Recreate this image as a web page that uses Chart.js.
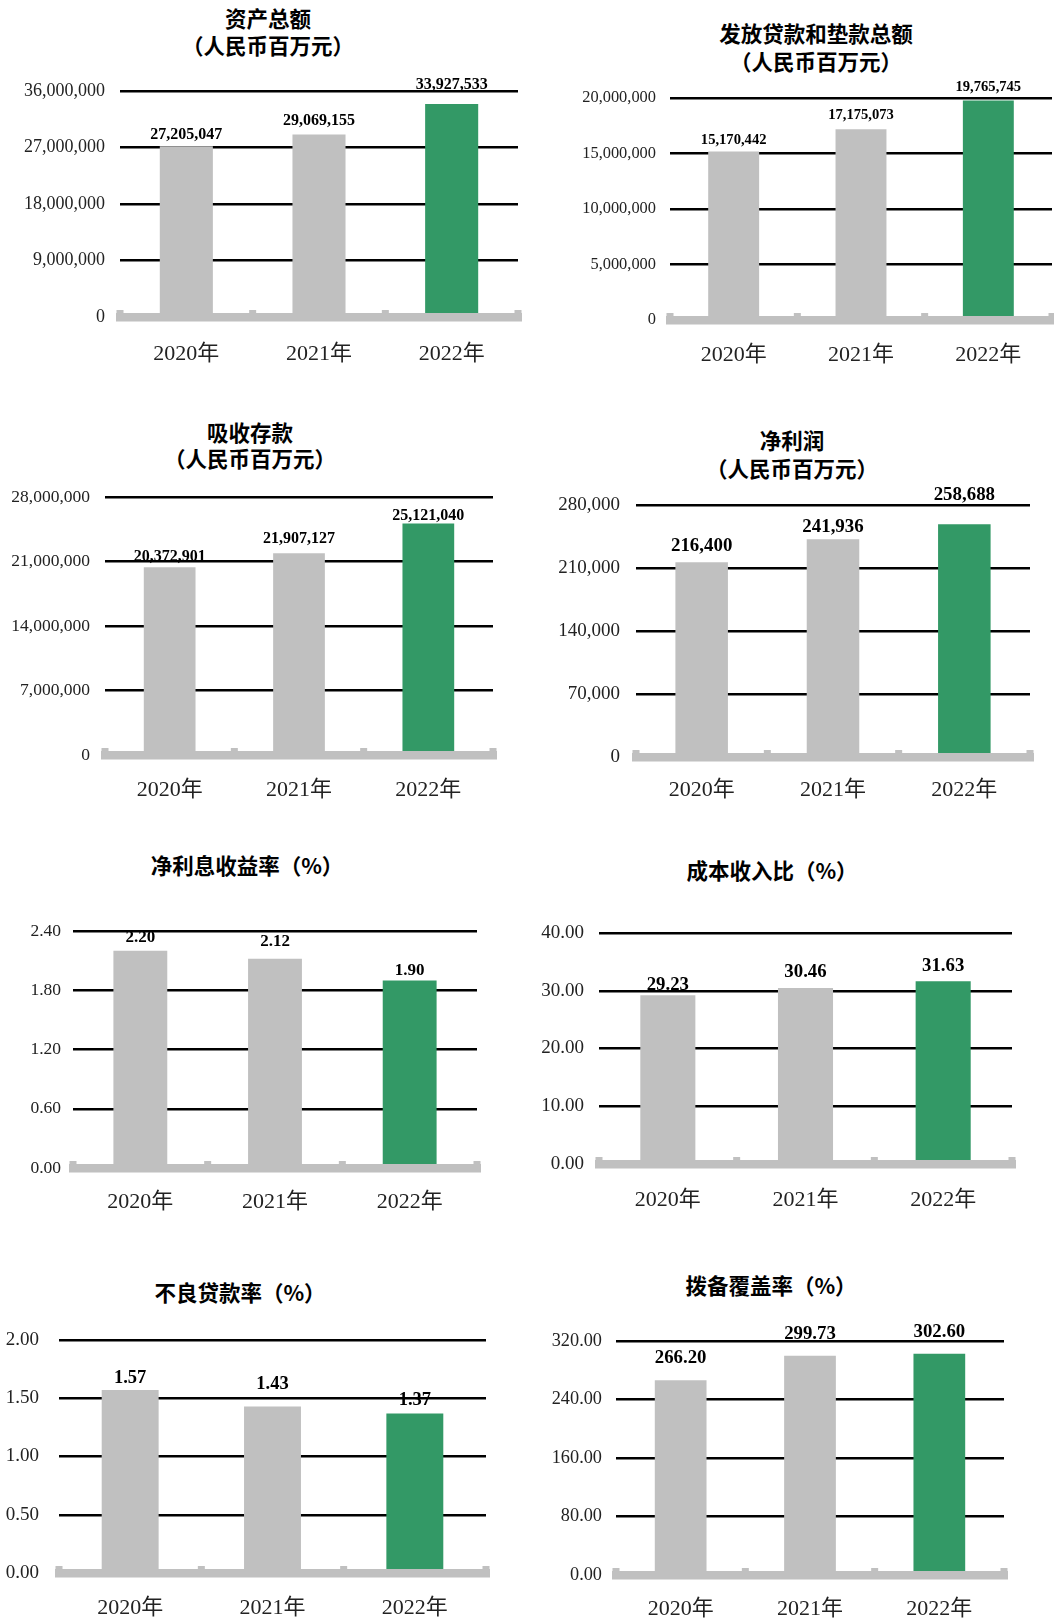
<!DOCTYPE html>
<html>
<head>
<meta charset="utf-8">
<title>主要财务指标</title>
<script src="https://cdn.jsdelivr.net/npm/chart.js"></script>
<style>
    body {
        margin: 0;
        background: #fff;
    }
    #page {
        position: relative;
        width: 1054px;
        height: 1619px;
        overflow: hidden;
    }
    #page canvas {
        position: absolute;
    }
    .title {
        position: absolute;
        transform: translateX(-50%);
        white-space: nowrap;
        font: bold 21.5px 'Noto Sans CJK SC', sans-serif;
        line-height: 28px;
        color: #000;
    }
</style>
</head>
<body>
<div id="page"></div>

<script>
    // data
    const years = ['2020年', '2021年', '2022年'];

    const totalAssets = [27205047, 29069155, 33927533];
    const loans = [15170442, 17175073, 19765745];
    const deposits = [20372901, 21907127, 25121040];
    const netProfit = [216400, 241936, 258688];
    const netInterestMargin = [2.20, 2.12, 1.90];
    const costIncomeRatio = [29.23, 30.46, 31.63];
    const nplRatio = [1.57, 1.43, 1.37];
    const provisionCoverage = [266.20, 299.73, 302.60];

    const assetTicks = [0, 9000000, 18000000, 27000000, 36000000];
    const loanTicks = [0, 5000000, 10000000, 15000000, 20000000];
    const depositTicks = [0, 7000000, 14000000, 21000000, 28000000];
    const profitTicks = [0, 70000, 140000, 210000, 280000];
    const nimTicks = [0, 0.6, 1.2, 1.8, 2.4];
    const costTicks = [0, 10, 20, 30, 40];
    const nplTicks = [0, 0.5, 1.0, 1.5, 2.0];
    const coverageTicks = [0, 80, 160, 240, 320];

    const barColors = ['#c0c0c0', '#c0c0c0', '#339966'];
    const serif = "'Liberation Serif', 'Noto Sans CJK SC', serif";

    // layout of the 8 panels (page pixels); gaps = label distance above bar top
    const panels = [
        { title: ['资产总额', '（人民币百万元）'], tx: 268, ty: [18, 45], values: totalAssets, ticks: assetTicks, dec: 0,
          left: 0, x0: 120, x1: 518, yTop: 91, yZero: 317, labelRight: 105, xLabelY: 352, tickSize: 18, valSize: 16, gaps: [11, 14, 19] },
        { title: ['发放贷款和垫款总额', '（人民币百万元）'], tx: 816, ty: [33, 61], values: loans, ticks: loanTicks, dec: 0,
          left: 520, x0: 670, x1: 1052, yTop: 98, yZero: 320, labelRight: 656, xLabelY: 353, tickSize: 16.4, valSize: 14.6, gaps: [11, 14, 13] },
        { title: ['吸收存款', '（人民币百万元）'], tx: 250, ty: [432, 458], values: deposits, ticks: depositTicks, dec: 0,
          left: 0, x0: 105, x1: 493, yTop: 497, yZero: 755, labelRight: 90, xLabelY: 788, tickSize: 17.5, valSize: 16, gaps: [10, 14, 8] },
        { title: ['净利润', '（人民币百万元）'], tx: 792, ty: [440, 468], values: netProfit, ticks: profitTicks, dec: 0,
          left: 520, x0: 636, x1: 1030, yTop: 505, yZero: 757, labelRight: 620, xLabelY: 788, tickSize: 19, valSize: 18.9, gaps: [16, 12, 29] },
        { title: ['净利息收益率（%）'], tx: 247, ty: [865], values: netInterestMargin, ticks: nimTicks, dec: 2,
          left: 0, x0: 73, x1: 477, yTop: 931, yZero: 1168, labelRight: 61, xLabelY: 1200, tickSize: 17.5, valSize: 17, gaps: [13, 17, 10] },
        { title: ['成本收入比（%）'], tx: 772, ty: [870], values: costIncomeRatio, ticks: costTicks, dec: 2,
          left: 520, x0: 599, x1: 1012, yTop: 933, yZero: 1164, labelRight: 584, xLabelY: 1198, tickSize: 19, valSize: 18.8, gaps: [10, 16, 15] },
        { title: ['不良贷款率（%）'], tx: 240, ty: [1292], values: nplRatio, ticks: nplTicks, dec: 2,
          left: 0, x0: 59, x1: 486, yTop: 1340, yZero: 1573, labelRight: 39, xLabelY: 1606, tickSize: 19, valSize: 18.5, gaps: [12, 22, 13] },
        { title: ['拨备覆盖率（%）'], tx: 771, ty: [1285], values: provisionCoverage, ticks: coverageTicks, dec: 2,
          left: 520, x0: 616, x1: 1004, yTop: 1341, yZero: 1575, labelRight: 602, xLabelY: 1607, tickSize: 18.3, valSize: 18.8, gaps: [22, 22, 22] }
    ];

    const PAD_TOP = 40, PAD_RIGHT = 10, X_AXIS_H = 46, X_FONT = 22, X_SHIFT = 6;

    function fmt(v, dec) {
        return v.toLocaleString('en-US', { minimumFractionDigits: dec, maximumFractionDigits: dec });
    }

    // gray axis band with little stubs, plus value labels on the bars
    const barDeco = {
        id: 'barDeco',
        afterDatasetsDraw(chart, args, opts) {
            const { ctx, scales: { x, y } } = chart;
            const y0 = y.getPixelForValue(0);
            ctx.save();
            ctx.fillStyle = '#c0c0c0';
            ctx.fillRect(x.left - 4, y0 - 4, x.right - x.left + 8, 8.5);
            const n = chart.data.labels.length;
            const stops = [x.left];
            for (let i = 1; i < n; i++) {
                stops.push((x.getPixelForValue(i - 1) + x.getPixelForValue(i)) / 2);
            }
            stops.push(x.right);
            stops.forEach(px => ctx.fillRect(px - 3.5, y0 - 7, 7, 4));

            ctx.fillStyle = '#000';
            ctx.font = 'bold ' + opts.size + 'px ' + serif;
            ctx.textAlign = 'center';
            ctx.textBaseline = 'middle';
            const meta = chart.getDatasetMeta(0);
            meta.data.forEach((bar, i) => {
                const v = chart.data.datasets[0].data[i];
                ctx.fillText(fmt(v, opts.dec), bar.x, bar.y - opts.gaps[i]);
            });
            ctx.restore();
        }
    };

    const page = document.getElementById('page');

    panels.forEach(p => {
        p.title.forEach((line, i) => {
            const d = document.createElement('div');
            d.className = 'title';
            d.textContent = line;
            d.style.left = p.tx + 'px';
            d.style.top = (p.ty[i] - 14) + 'px';
            page.appendChild(d);
        });

        const top = p.yTop - PAD_TOP;
        const w = p.x1 + PAD_RIGHT - p.left;
        const h = p.yZero - top + X_AXIS_H;
        const cv = document.createElement('canvas');
        cv.width = w;
        cv.height = h;
        cv.style.left = p.left + 'px';
        cv.style.top = top + 'px';
        cv.style.width = w + 'px';
        cv.style.height = h + 'px';
        page.appendChild(cv);

        new Chart(cv.getContext('2d'), {
            type: 'bar',
            data: {
                labels: years,
                datasets: [{
                    data: p.values,
                    backgroundColor: barColors,
                    categoryPercentage: 1.0,
                    barPercentage: 0.4
                }]
            },
            options: {
                responsive: false,
                animation: false,
                layout: { padding: { top: PAD_TOP, right: PAD_RIGHT, left: 0, bottom: 0 } },
                plugins: {
                    legend: { display: false },
                    tooltip: { enabled: false },
                    barDeco: { size: p.valSize, gaps: p.gaps, dec: p.dec }
                },
                scales: {
                    x: {
                        grid: { display: false },
                        border: { display: false },
                        ticks: {
                            color: '#222',
                            font: { family: serif, size: X_FONT, lineHeight: 1 },
                            padding: p.xLabelY - p.yZero - X_FONT / 2 - X_SHIFT,
                            maxRotation: 0
                        },
                        afterFit(scale) { scale.height = X_AXIS_H; }
                    },
                    y: {
                        min: p.ticks[0],
                        max: p.ticks[p.ticks.length - 1],
                        border: { display: false },
                        grid: {
                            drawTicks: false,
                            lineWidth: 2.5,
                            color: c => c.tick && c.tick.value === 0 ? 'rgba(0,0,0,0)' : '#000'
                        },
                        ticks: {
                            stepSize: p.ticks[1] - p.ticks[0],
                            padding: p.x0 - p.labelRight,
                            color: '#222',
                            font: { family: serif, size: p.tickSize },
                            callback: v => fmt(v, p.dec)
                        },
                        afterFit(scale) { scale.width = p.x0 - p.left; }
                    }
                }
            },
            plugins: [barDeco]
        });
    });
</script>
</body>
</html>
